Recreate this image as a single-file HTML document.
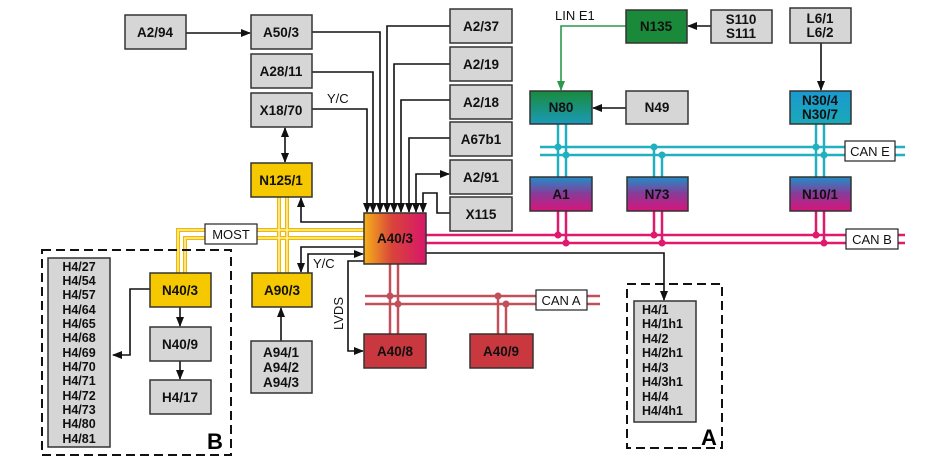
<!DOCTYPE html>
<html><head><meta charset="utf-8"><style>
html,body{margin:0;padding:0;background:#fff;}
svg{display:block;font-family:"Liberation Sans",Arial,sans-serif;}
.b{font-weight:bold;font-size:13.5px;fill:#111;}
.n{font-size:13px;fill:#111;}
</style></head><body>
<svg width="939" height="470" viewBox="0 0 939 470" xmlns="http://www.w3.org/2000/svg">
<defs>
<marker id="ah" markerWidth="10" markerHeight="8" refX="9" refY="4" orient="auto" markerUnits="userSpaceOnUse"><path d="M0,0 L10,4 L0,8 Z" fill="#111"/></marker>
<marker id="ahs" markerWidth="10" markerHeight="8" refX="9" refY="4" orient="auto-start-reverse" markerUnits="userSpaceOnUse"><path d="M0,0 L10,4 L0,8 Z" fill="#111"/></marker>
<marker id="ag" markerWidth="10" markerHeight="8" refX="9" refY="4" orient="auto" markerUnits="userSpaceOnUse"><path d="M0,0 L10,4 L0,8 Z" fill="#2a9a4a"/></marker>
<linearGradient id="ga" x1="0" x2="1"><stop offset="0" stop-color="#f5b21a"/><stop offset="0.45" stop-color="#d9443a"/><stop offset="1" stop-color="#d8166a"/></linearGradient>
<linearGradient id="gn80" x1="0" y1="0" x2="0" y2="1"><stop offset="0" stop-color="#1a8a3c"/><stop offset="1" stop-color="#1a9ab8"/></linearGradient>
<linearGradient id="gbm" x1="0" y1="0" x2="0" y2="1"><stop offset="0" stop-color="#1f8fc8"/><stop offset="0.5" stop-color="#8a3a98"/><stop offset="1" stop-color="#d8147a"/></linearGradient>
<linearGradient id="gn30" x1="0" y1="0" x2="0" y2="1"><stop offset="0" stop-color="#1a9ad0"/><stop offset="1" stop-color="#1aa8b8"/></linearGradient>
</defs>

<!-- MOST yellow lines -->
<g stroke="#f0b800" stroke-width="4" fill="none">
<path d="M178,273 V230 H365"/><path d="M185,273 V238 H365"/>
<path d="M279,197 V273"/><path d="M287,197 V273"/>
</g>
<g stroke="#fff2a8" stroke-width="1.5" fill="none">
<path d="M178,273 V230 H365"/><path d="M185,273 V238 H365"/>
<path d="M279,197 V273"/><path d="M287,197 V273"/>
</g>

<!-- CAN E -->
<g stroke="#20b0c0" stroke-width="2.5" fill="none">
<path d="M540,147 H905"/><path d="M540,155 H905"/>
<path d="M558,124 V177"/><path d="M566,124 V177"/>
<path d="M654,147 V177"/><path d="M662,155 V177"/>
<path d="M816,124 V177"/><path d="M824,124 V177"/>
</g>
<g fill="#20b0c0"><circle cx="558" cy="147" r="3.5"/><circle cx="566" cy="155" r="3.5"/><circle cx="654" cy="147" r="3.5"/><circle cx="662" cy="155" r="3.5"/><circle cx="816" cy="147" r="3.5"/><circle cx="824" cy="155" r="3.5"/></g>

<!-- CAN B -->
<g stroke="#e0186e" stroke-width="2.5" fill="none">
<path d="M426,235 H905"/><path d="M426,243 H905"/>
<path d="M558,211 V235"/><path d="M566,211 V243"/>
<path d="M654,211 V235"/><path d="M662,211 V243"/>
<path d="M816,211 V235"/><path d="M824,211 V243"/>
</g>
<g fill="#e0186e"><circle cx="558" cy="235" r="3.5"/><circle cx="566" cy="243" r="3.5"/><circle cx="654" cy="235" r="3.5"/><circle cx="662" cy="243" r="3.5"/><circle cx="816" cy="235" r="3.5"/><circle cx="824" cy="243" r="3.5"/></g>

<!-- CAN A -->
<g stroke="#c0505a" stroke-width="2.5" fill="none">
<path d="M365,296 H600"/><path d="M365,304 H600"/>
<path d="M390,264 V334"/><path d="M398,264 V334"/>
<path d="M498,296 V334"/><path d="M506,304 V334"/>
</g>
<g fill="#c0505a"><circle cx="390" cy="296" r="3.5"/><circle cx="398" cy="304" r="3.5"/><circle cx="498" cy="296" r="3.5"/><circle cx="506" cy="304" r="3.5"/></g>

<!-- black connectors -->
<g stroke="#111" stroke-width="1.6" fill="none">
<path d="M186,33 H250" marker-end="url(#ah)"/>
<path d="M312,109 H367 V212" marker-end="url(#ah)"/>
<path d="M312,72 H373 V212" marker-end="url(#ah)"/>
<path d="M312,32 H380 V212" marker-end="url(#ah)"/>
<path d="M450,26 H387 V212" marker-end="url(#ah)"/>
<path d="M450,64 H394 V212" marker-end="url(#ah)"/>
<path d="M450,100 H401 V212" marker-end="url(#ah)"/>
<path d="M450,138 H409 V212" marker-end="url(#ah)"/>
<path d="M416,212 V174 H449" marker-start="url(#ahs)" marker-end="url(#ah)"/>
<path d="M450,213 H437 V193 H423 V212" marker-end="url(#ah)"/>
<path d="M285,128 V162" marker-start="url(#ahs)" marker-end="url(#ah)"/>
<path d="M364,222 H301 V198" marker-end="url(#ah)"/>
<path d="M364,247 H301 V272" marker-end="url(#ah)"/>
<path d="M308,273 V254 H363" marker-end="url(#ah)"/>
<path d="M364,261 H348 V351 H363" marker-end="url(#ah)"/>
<path d="M426,253 H664 V300" marker-end="url(#ah)"/>
<path d="M281,341 V308" marker-end="url(#ah)"/>
<path d="M150,289 H130 V355 H113" marker-end="url(#ah)"/>
<path d="M180,307 V326" marker-end="url(#ah)"/>
<path d="M180,361 V379" marker-end="url(#ah)"/>
<path d="M711,26 H688" marker-end="url(#ah)"/>
<path d="M626,108 H593" marker-end="url(#ah)"/>
<path d="M821,43 V90" marker-end="url(#ah)"/>
</g>
<path d="M626,26 H561 V90" stroke="#2a9a4a" stroke-width="1.6" fill="none" marker-end="url(#ag)"/>

<!-- dashed groups -->
<rect x="42" y="250" width="189" height="205" fill="none" stroke="#111" stroke-width="2" stroke-dasharray="9,5"/>
<rect x="627" y="284" width="95" height="164" fill="none" stroke="#111" stroke-width="2" stroke-dasharray="9,5"/>
<text x="207" y="449" style="font-weight:bold;font-size:22px">B</text>
<text x="701" y="445" style="font-weight:bold;font-size:22px">A</text>

<!-- boxes -->
<g stroke="#333" stroke-width="1.5">
<rect x="125" y="15" width="61" height="34" fill="#d6d6d6"/>
<rect x="251" y="15" width="61" height="34" fill="#d6d6d6"/>
<rect x="251" y="54" width="61" height="34" fill="#d6d6d6"/>
<rect x="251" y="93" width="61" height="34" fill="#d6d6d6"/>
<rect x="450" y="9" width="62" height="34" fill="#d6d6d6"/>
<rect x="450" y="47" width="62" height="34" fill="#d6d6d6"/>
<rect x="450" y="85" width="62" height="34" fill="#d6d6d6"/>
<rect x="450" y="122" width="62" height="34" fill="#d6d6d6"/>
<rect x="450" y="160" width="62" height="34" fill="#d6d6d6"/>
<rect x="450" y="197" width="62" height="34" fill="#d6d6d6"/>
<rect x="251" y="163" width="61" height="34" fill="#f5c800"/>
<rect x="364" y="213" width="62" height="51" fill="url(#ga)"/>
<rect x="252" y="273" width="60" height="34" fill="#f5c800"/>
<rect x="150" y="273" width="61" height="34" fill="#f5c800"/>
<rect x="150" y="327" width="61" height="34" fill="#d6d6d6"/>
<rect x="150" y="380" width="61" height="34" fill="#d6d6d6"/>
<rect x="48" y="258" width="62" height="189" fill="#d6d6d6"/>
<rect x="251" y="341" width="61" height="52" fill="#d6d6d6"/>
<rect x="364" y="334" width="62" height="34" fill="#c8383e"/>
<rect x="470" y="334" width="63" height="34" fill="#c8383e"/>
<rect x="634" y="301" width="62" height="121" fill="#d6d6d6"/>
<rect x="626" y="10" width="61" height="33" fill="#1a8a3a"/>
<rect x="711" y="10" width="61" height="33" fill="#d6d6d6"/>
<rect x="790" y="8" width="61" height="35" fill="#d6d6d6"/>
<rect x="530" y="91" width="62" height="33" fill="url(#gn80)"/>
<rect x="626" y="91" width="62" height="33" fill="#d6d6d6"/>
<rect x="790" y="91" width="61" height="33" fill="url(#gn30)"/>
<rect x="530" y="177" width="62" height="34" fill="url(#gbm)"/>
<rect x="627" y="177" width="61" height="34" fill="url(#gbm)"/>
<rect x="790" y="177" width="61" height="34" fill="url(#gbm)"/>
</g>
<g stroke="#222" stroke-width="1.2" fill="#fff">
<rect x="205" y="224" width="52" height="20"/>
<rect x="536" y="290" width="51" height="20"/>
<rect x="845" y="141" width="50" height="20"/>
<rect x="846" y="229" width="52" height="20"/>
</g>

<g class="b" text-anchor="middle">
<text x="155" y="37">A2/94</text>
<text x="281" y="37">A50/3</text>
<text x="281" y="76">A28/11</text>
<text x="281" y="115">X18/70</text>
<text x="481" y="31">A2/37</text>
<text x="481" y="69">A2/19</text>
<text x="481" y="107">A2/18</text>
<text x="481" y="144">A67b1</text>
<text x="481" y="182">A2/91</text>
<text x="481" y="219">X115</text>
<text x="281" y="185">N125/1</text>
<text x="395" y="243">A40/3</text>
<text x="282" y="295">A90/3</text>
<text x="180" y="295">N40/3</text>
<text x="180" y="349">N40/9</text>
<text x="180" y="402">H4/17</text>
<text x="281" y="357">A94/1</text>
<text x="281" y="372">A94/2</text>
<text x="281" y="387">A94/3</text>
<text x="395" y="356">A40/8</text>
<text x="501" y="356">A40/9</text>
<text x="656" y="31">N135</text>
<text x="741" y="24">S110</text>
<text x="741" y="38">S111</text>
<text x="820" y="23">L6/1</text>
<text x="820" y="37">L6/2</text>
<text x="561" y="112">N80</text>
<text x="657" y="112">N49</text>
<text x="820" y="105">N30/4</text>
<text x="820" y="119">N30/7</text>
<text x="561" y="199">A1</text>
<text x="657" y="199">N73</text>
<text x="820" y="199">N10/1</text>
</g>
<g class="b" text-anchor="middle" style="font-size:12.5px">
<text x="79" y="271">H4/27</text><text x="79" y="285">H4/54</text><text x="79" y="299">H4/57</text><text x="79" y="314">H4/64</text><text x="79" y="328">H4/65</text><text x="79" y="342">H4/68</text><text x="79" y="357">H4/69</text><text x="79" y="371">H4/70</text><text x="79" y="385">H4/71</text><text x="79" y="400">H4/72</text><text x="79" y="414">H4/73</text><text x="79" y="428">H4/80</text><text x="79" y="443">H4/81</text>
</g>
<g class="b" style="font-size:12.5px">
<text x="642" y="314">H4/1</text><text x="642" y="328">H4/1h1</text><text x="642" y="343">H4/2</text><text x="642" y="357">H4/2h1</text><text x="642" y="372">H4/3</text><text x="642" y="386">H4/3h1</text><text x="642" y="401">H4/4</text><text x="642" y="415">H4/4h1</text>
</g>
<g class="n">
<text x="231" y="239" text-anchor="middle">MOST</text>
<text x="561" y="305" text-anchor="middle">CAN A</text>
<text x="870" y="156" text-anchor="middle">CAN E</text>
<text x="872" y="244" text-anchor="middle">CAN B</text>
<text x="327" y="103">Y/C</text>
<text x="313" y="268">Y/C</text>
<text x="555" y="20">LIN E1</text>
<text x="343" y="330" transform="rotate(-90 343 330)">LVDS</text>
</g>
</svg>
</body></html>
